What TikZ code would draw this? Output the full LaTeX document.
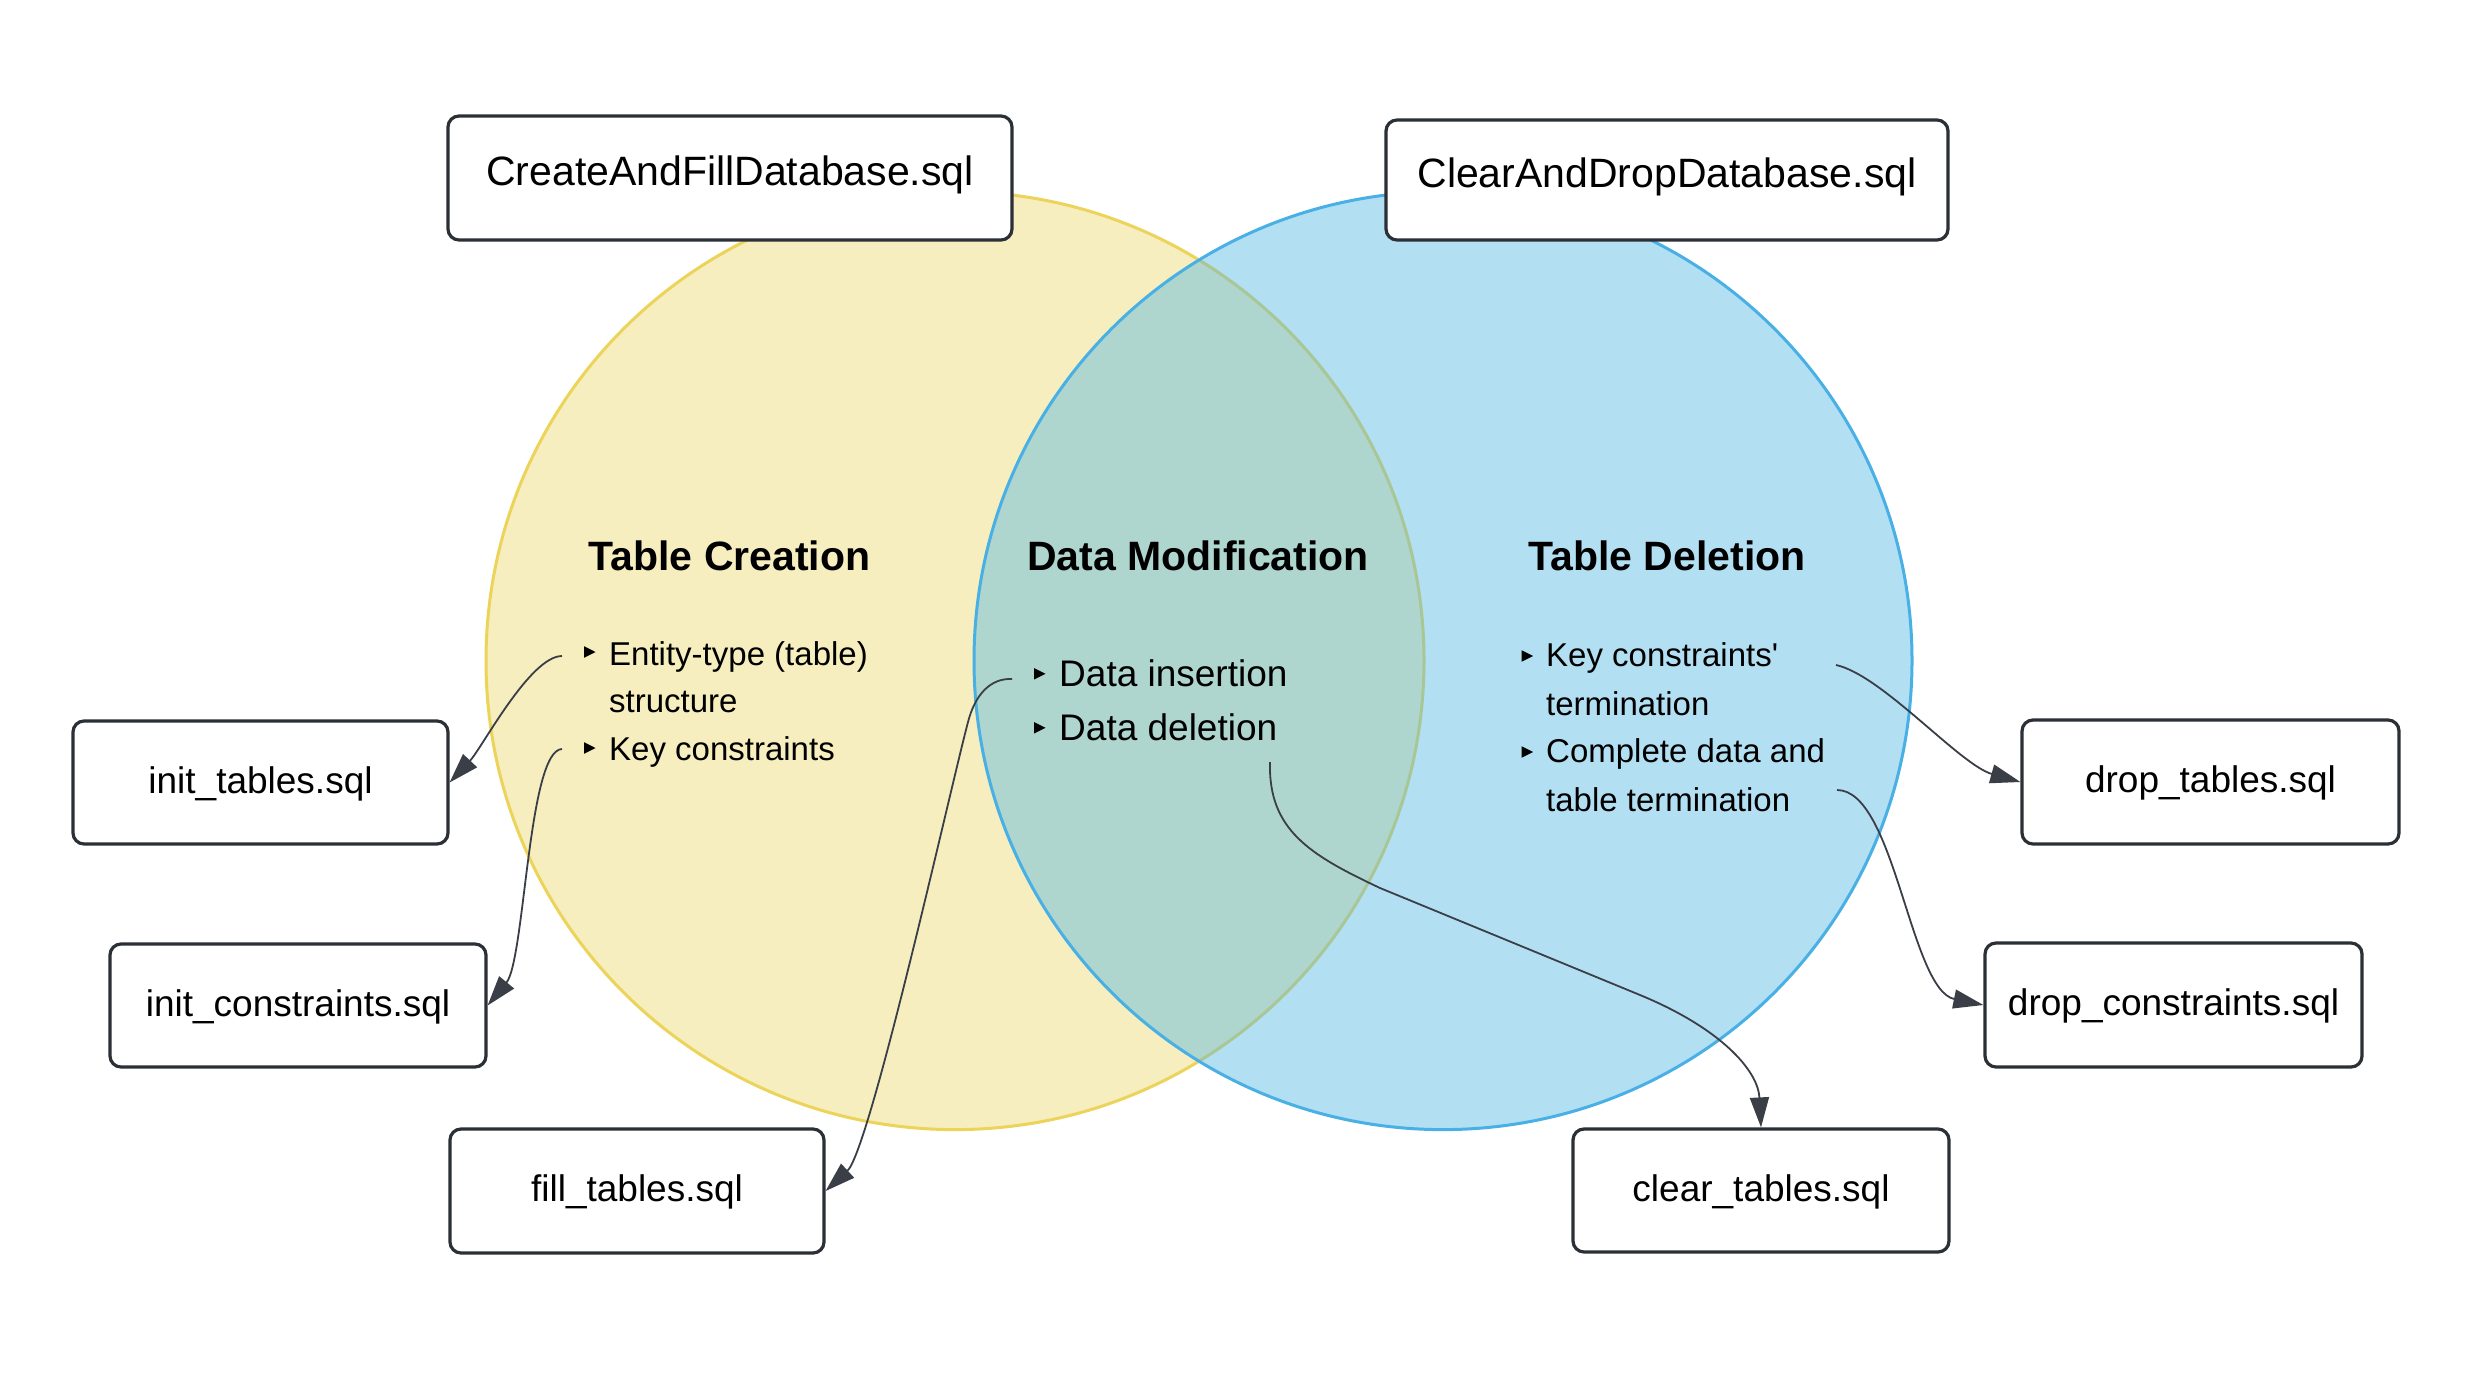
\documentclass[tikz,border=0pt]{standalone}
\usepackage{fontspec}
\setmainfont{Liberation Sans}[Ligatures=TeXOff]
\usetikzlibrary{arrows.meta}
\definecolor{yfill}{RGB}{246,238,190}
\definecolor{ystroke}{RGB}{236,212,90}
\definecolor{bfill}{RGB}{81,181,229}
\definecolor{bstroke}{RGB}{72,176,228}
\definecolor{boxline}{RGB}{43,47,54}
\definecolor{conncol}{RGB}{58,62,70}
\begin{document}
\begin{tikzpicture}[x=1pt,y=-1pt,
  filebox/.style={draw=boxline, line width=3.2pt, rounded corners=11pt, fill=white,
    inner sep=0pt, font=\fontsize{37}{44}\selectfont, text height=28.5pt, text depth=7.5pt},
  bigbox/.style={filebox, font=\fontsize{41}{49}\selectfont, text height=22pt, text depth=8pt},
  settitle/.style={anchor=base, inner sep=0pt, font=\bfseries\fontsize{41}{49}\selectfont},
  item/.style={anchor=base west, inner sep=0pt, font=\fontsize{33}{40}\selectfont},
  bigitem/.style={item, font=\fontsize{37}{44}\selectfont},
  conn/.style={draw=conncol, line width=1.8pt, -{Triangle[length=30pt,width=19pt]}},
  setcircle/.style={circle, inner sep=0pt, minimum size=938pt, line width=3pt},
  bullet/.pic={\fill[black] (-5.5,-5.8) -- (6,0) -- (-5.5,5.8) -- cycle;}
]
\useasboundingbox[fill=white] (0,0) rectangle (2475,1395);

% circles
\node[setcircle, fill=yfill, draw=ystroke] (yc) at (955,660.6) {};
\node[setcircle, fill=bfill, fill opacity=0.43, draw=bstroke] (bc) at (1443,660.6) {};

% titles
\node[settitle] (tcr) at (729.5,570) {Table Creation};
\node[settitle] (tdm) at (1198,570) {Data Modification};
\node[settitle] (tdl) at (1667,570) {Table Deletion};

% Table Creation items
\pic at (589.5,652) {bullet};
\node[item] (c1) at (609,665) {Entity-type (table)};
\node[item] (c1b) at (609,712.7) {structure};
\pic at (589.5,748) {bullet};
\node[item] (c2) at (609,760) {Key constraints};

% Data Modification items
\pic at (1039.5,673.8) {bullet};
\node[bigitem] (m1) at (1059,686.7) {Data insertion};
\pic at (1039.5,727.8) {bullet};
\node[bigitem] (m2) at (1059,740.7) {Data deletion};

% Table Deletion items
\pic at (1527,656) {bullet};
\node[item] (d1) at (1546,666.7) {Key constraints'};
\node[item] (d1b) at (1546,715) {termination};
\pic at (1527,752) {bullet};
\node[item] (d2) at (1546,762.7) {Complete data and};
\node[item] (d2b) at (1546,811) {table termination};

% boxes
\node[bigbox, minimum width=564pt, minimum height=124pt] (cafd) at (730,178) {CreateAndFillDatabase.sql};
\node[bigbox, minimum width=562pt, minimum height=120pt] (cadd) at (1667,180) {ClearAndDropDatabase.sql};
\node[filebox, minimum width=375pt, minimum height=123pt] (initt) at (260.5,782.5) {init\_tables.sql};
\node[filebox, minimum width=376pt, minimum height=123pt] (initc) at (298,1005.5) {init\_constraints.sql};
\node[filebox, minimum width=374pt, minimum height=124pt] (fillt) at (637,1191) {fill\_tables.sql};
\node[filebox, minimum width=376pt, minimum height=123pt] (cleart) at (1761,1190.5) {clear\_tables.sql};
\node[filebox, minimum width=377pt, minimum height=124pt] (dropt) at (2210.5,782) {drop\_tables.sql};
\node[filebox, minimum width=377pt, minimum height=124pt] (dropc) at (2173.5,1005) {drop\_constraints.sql};

% connector start points
\coordinate (e1s) at (562,656);
\coordinate (e2s) at (562,749);
\coordinate (m1s) at (1012,679);
\coordinate (m1w) at (968,722);
\coordinate (m2s) at (1270,762);
\coordinate (m2a) at (1380,888);
\coordinate (m2b) at (1640,995);
\coordinate (d1s) at (1836,665);
\coordinate (d2s) at (1837,790);

% connectors
\draw[conn] (e1s) .. controls (530,656) and (482,748) .. (initt.east);
\draw[conn] (e2s) .. controls (528,750) and (525,960) .. (initc.east);
\draw[conn] (m1s) .. controls (990,678) and (975,695) .. (m1w)
  .. controls (950,790) and (870,1150) .. (fillt.east);
\draw[conn] (m2s) .. controls (1268,830) and (1310,855) .. (m2a) -- (m2b)
  .. controls (1720,1028) and (1758,1070) .. (cleart.north);
\draw[conn] (d1s) .. controls (1882,675) and (1960,765) .. (dropt.west);
\draw[conn] (d2s) .. controls (1895,790) and (1910,990) .. (dropc.west);
\end{tikzpicture}
\end{document}
